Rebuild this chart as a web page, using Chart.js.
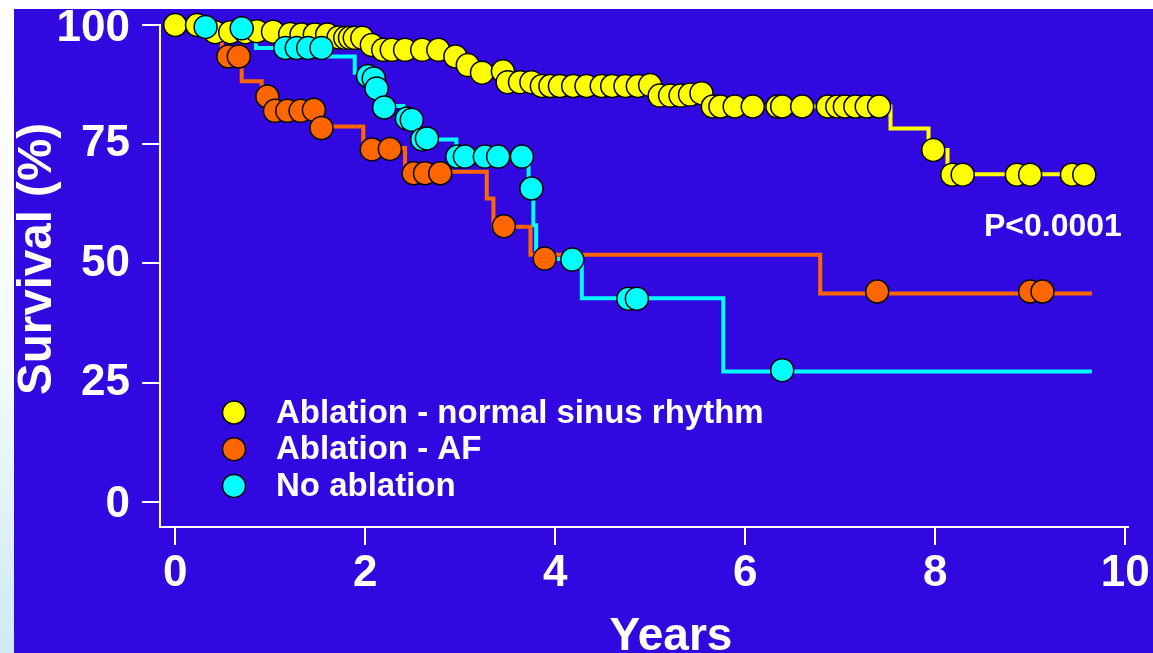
<!DOCTYPE html>
<html>
<head>
<meta charset="utf-8">
<script src="https://cdn.jsdelivr.net/npm/chart.js@4.4.1/dist/chart.umd.min.js"></script>
<style>
  html, body { margin: 0; padding: 0; background: #fff; overflow: hidden; }
  canvas { display: block; }
</style>
</head>
<body>
<canvas id="kmChart" width="1153" height="653"></canvas>
<script>
// Kaplan-Meier curves, survival (%) against years
let xTicks = [0, 2, 4, 6, 8, 10];
let yTicks = [0, 25, 50, 75, 100];

// Ablation - normal sinus rhythm
let nsrT = [0, 0.38, 1.12, 1.68, 2.0, 2.15, 2.9, 3.05, 3.18, 3.47, 3.8, 5.04, 5.6, 7.53, 7.93, 8.13, 9.57];
let nsrS = [100, 98.5, 98.0, 97.3, 95.8, 94.8, 93.4, 91.6, 90.2, 88.0, 87.2, 85.2, 82.9, 78.3, 73.8, 68.7, 68.7];
let nsrCensT = [0, 0.23, 0.42, 0.58, 0.74, 0.86, 1.03, 1.21, 1.33, 1.47, 1.6, 1.72, 1.79, 1.84, 1.89, 1.97,
                2.07, 2.19, 2.28, 2.42, 2.6, 2.77, 2.95, 3.08, 3.23, 3.45, 3.5, 3.63, 3.75, 3.86, 3.95, 4.05,
                4.19, 4.33, 4.49, 4.6, 4.74, 4.87, 5.0, 5.1, 5.21, 5.32, 5.42, 5.54, 5.66, 5.74, 5.89, 6.08,
                6.34, 6.39, 6.6, 6.87, 6.97, 7.05, 7.16, 7.28, 7.41, 7.98, 8.18, 8.29, 8.86, 9.0, 9.44, 9.57];
let nsrCensS = [100, 100, 98.5, 98.5, 98.5, 98.7, 98.6, 98.1, 98.0, 98.0, 98.0, 97.4, 97.3, 97.3, 97.3, 97.3,
                95.8, 94.8, 94.8, 94.8, 94.8, 94.8, 93.4, 91.6, 90.0, 90.3, 88.0, 88.0, 88.0, 87.2, 87.2, 87.2,
                87.2, 87.2, 87.2, 87.2, 87.2, 87.2, 87.4, 85.2, 85.2, 85.2, 85.4, 85.7, 82.9, 82.9, 82.9, 82.9,
                82.9, 82.9, 82.9, 82.9, 82.9, 82.9, 82.9, 82.9, 82.9, 73.8, 68.6, 68.6, 68.6, 68.6, 68.6, 68.6];

// Ablation - AF
let afT = [0, 0.49, 0.7, 0.91, 1.0, 1.52, 1.98, 2.42, 3.28, 3.35, 3.74, 6.79, 9.65];
let afS = [100, 93.4, 88.2, 85.0, 82.0, 78.7, 74.2, 69.2, 63.6, 57.7, 51.8, 43.7, 43.7];
let afCensT = [0.56, 0.67, 0.97, 1.05, 1.18, 1.32, 1.46, 1.54, 2.07, 2.26, 2.51, 2.63, 2.79, 3.46, 3.89, 7.39, 9.0, 9.13];
let afCensS = [93.4, 93.4, 85.0, 82.0, 82.0, 82.0, 82.2, 78.4, 73.9, 74.0, 68.9, 68.9, 68.9, 57.8, 51.0, 44.1, 44.1, 44.1];

// No ablation
let noT = [0, 0.85, 1.6, 1.89, 2.1, 2.16, 2.4, 2.55, 2.96, 3.72, 3.77, 3.8, 4.28, 5.77, 9.65];
let noS = [100, 95.2, 93.4, 90.0, 86.7, 83.0, 80.3, 76.0, 72.4, 65.6, 58.0, 50.9, 42.7, 27.3, 27.3];
let noCensT = [0.32, 0.7, 1.16, 1.28, 1.4, 1.54, 2.03, 2.09, 2.12, 2.2, 2.44, 2.49, 2.6, 2.65,
               2.97, 3.05, 3.26, 3.4, 3.65, 3.75, 4.18, 4.77, 4.86, 6.39];
let noCensS = [99.6, 99.3, 95.2, 95.2, 95.2, 95.2, 89.3, 88.8, 86.7, 82.7, 80.4, 80.1, 76.0, 76.2,
               72.4, 72.4, 72.4, 72.4, 72.4, 65.7, 50.8, 42.6, 42.6, 27.6];

let seriesNames = ["Ablation - normal sinus rhythm", "Ablation - AF", "No ablation"];
let seriesColors = ["#ffff00", "#ff6600", "#00ffff"];
let pText = "P<0.0001";

let bg = "#3109e0";
let font = "'Liberation Sans', Arial, sans-serif";

function pts(t, s) {
    let out = [];
    for (let i = 0; i < t.length; i++) out.push({x: t[i], y: s[i]});
    return out;
}

function stepLine(t, s, color) {
    return {
        type: 'line',
        data: pts(t, s),
        stepped: true,
        borderColor: color,
        borderWidth: 4,
        pointRadius: 0,
        fill: false,
        order: 5
    };
}

function censors(t, s, color, order) {
    return {
        type: 'scatter',
        data: pts(t, s),
        backgroundColor: color,
        borderColor: '#000',
        borderWidth: 1.5,
        pointRadius: 11.5,
        pointHoverRadius: 11.5,
        clip: false,
        order: order
    };
}

let slidePlugin = {
    id: 'slide',
    beforeDraw(chart) {
        let ctx = chart.ctx;
        ctx.save();
        ctx.fillStyle = '#fff';
        ctx.fillRect(0, 0, chart.width, chart.height);
        let g = ctx.createLinearGradient(0, 0, 0, chart.height);
        g.addColorStop(0, '#ffffff');
        g.addColorStop(0.55, '#f4fbfd');
        g.addColorStop(1, '#cfeaf3');
        ctx.fillStyle = g;
        ctx.fillRect(0, 0, 14, chart.height);
        ctx.fillStyle = bg;
        ctx.fillRect(14, 9, chart.width - 14, chart.height - 9);
        ctx.restore();
    },
    afterDraw(chart) {
        let ctx = chart.ctx;
        ctx.save();
        ctx.fillStyle = '#fff';
        ctx.textBaseline = 'middle';

        // axis titles
        ctx.font = "bold 46px " + font;
        ctx.textAlign = 'center';
        ctx.fillText("Years", 671, 637);
        ctx.save();
        ctx.font = "bold 47.5px " + font;
        ctx.translate(38, 259);
        ctx.rotate(-Math.PI / 2);
        ctx.fillText("Survival (%)", 0, 0);
        ctx.restore();

        // p value
        ctx.font = "bold 32px " + font;
        ctx.textAlign = 'left';
        ctx.fillText(pText, 984, 227);

        // legend
        ctx.font = "bold 33px " + font;
        for (let i = 0; i < seriesNames.length; i++) {
            let y = 412.5 + i * 36.7;
            ctx.beginPath();
            ctx.arc(234, y, 11.5, 0, Math.PI * 2);
            ctx.fillStyle = seriesColors[i];
            ctx.fill();
            ctx.lineWidth = 1.5;
            ctx.strokeStyle = '#000';
            ctx.stroke();
            ctx.fillStyle = '#fff';
            ctx.fillText(seriesNames[i], 276, y + 1);
        }
        ctx.restore();
    }
};

let canvas = document.getElementById('kmChart');
let kmChart = new Chart(canvas, {
    data: {
        datasets: [
            stepLine(nsrT, nsrS, seriesColors[0]),
            stepLine(afT, afS, seriesColors[1]),
            stepLine(noT, noS, seriesColors[2]),
            censors(nsrCensT, nsrCensS, seriesColors[0], 3),
            censors(afCensT, afCensS, seriesColors[1], 2),
            censors(noCensT, noCensS, seriesColors[2], 1)
        ]
    },
    options: {
        responsive: false,
        animation: false,
        devicePixelRatio: 1,
        layout: { padding: { top: 25, right: 25, left: 0, bottom: 0 } },
        plugins: { legend: { display: false }, tooltip: { enabled: false } },
        scales: {
            x: {
                type: 'linear',
                min: -0.16,
                max: 10.03,
                afterBuildTicks: function (scale) {
                    scale.ticks = xTicks.map(v => ({value: v}));
                },
                afterFit: function (scale) { scale.height = 126; },
                ticks: {
                    color: '#fff',
                    font: { family: font, size: 44, weight: 'bold' },
                    padding: 2,
                    maxRotation: 0,
                    autoSkip: false
                },
                grid: { drawOnChartArea: false, color: '#fff', lineWidth: 2, tickLength: 18 },
                border: { color: '#fff', width: 2 }
            },
            y: {
                type: 'linear',
                min: -5.3,
                max: 100,
                afterBuildTicks: function (scale) {
                    scale.ticks = yTicks.map(v => ({value: v}));
                },
                afterFit: function (scale) { scale.width = 160; },
                ticks: {
                    color: '#fff',
                    font: { family: font, size: 44, weight: 'bold', lineHeight: '7px' },
                    padding: 12,
                    // end labels sit a few pixels below their tick in the original
                    callback: function (v) {
                        return (v === 0 || v === 100) ? ['', String(v)] : String(v);
                    }
                },
                grid: { drawOnChartArea: false, color: '#fff', lineWidth: 2, tickLength: 18 },
                border: { color: '#fff', width: 2 }
            }
        }
    },
    plugins: [slidePlugin]
});
</script>
</body>
</html>
